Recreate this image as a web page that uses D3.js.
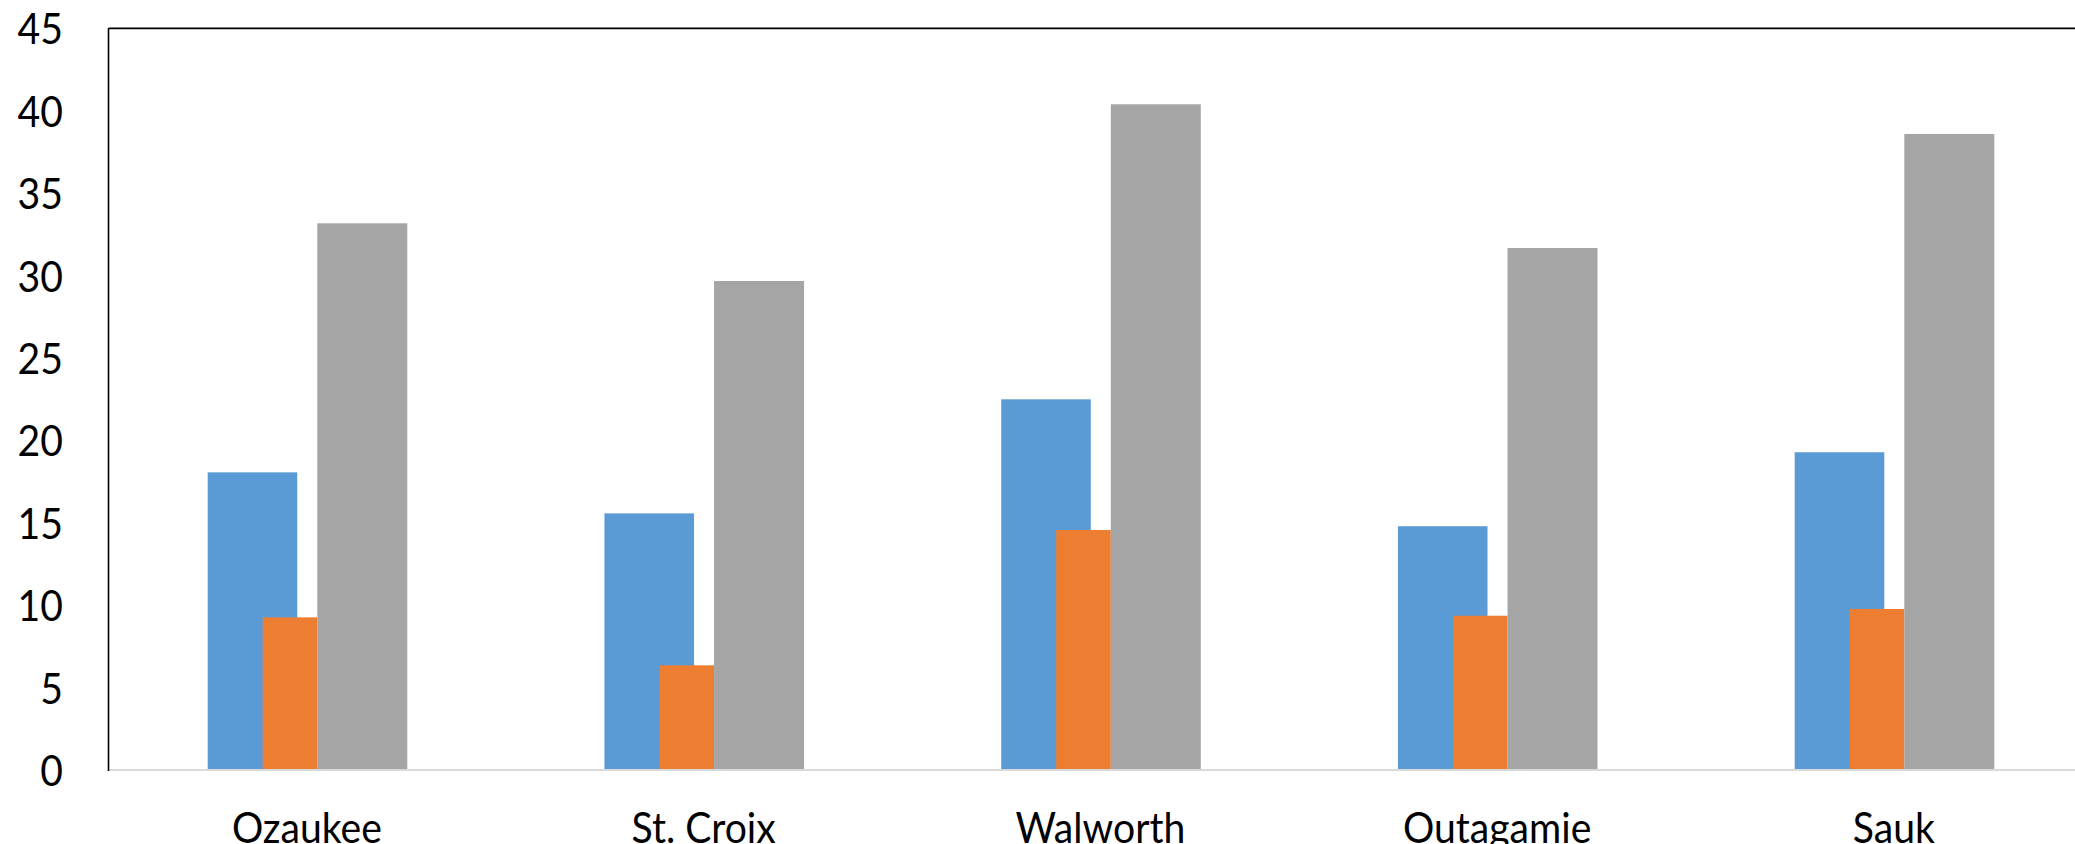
<!DOCTYPE html>
<html>
<head>
<meta charset="utf-8">
<script src="https://cdn.jsdelivr.net/npm/d3@7"></script>
<style>
  html, body { margin: 0; padding: 0; background: #ffffff; overflow: hidden; }
  svg { display: block; }
  text { font-family: Lato, "Open Sans", sans-serif; fill: #000000; }
</style>
</head>
<body>
<svg id="chart" width="2075" height="844"></svg>
<script>
// County names along the category axis
const categories = ["Ozaukee", "St. Croix", "Walworth", "Outagamie", "Sauk"];

// Three series per county
const seriesBlue   = [18.06, 15.57, 22.49, 14.79, 19.28];
const seriesOrange = [9.26, 6.35, 14.56, 9.36, 9.77];
const seriesGray   = [33.17, 29.67, 40.39, 31.67, 38.59];

// Value axis ticks
const yTicks = [0, 5, 10, 15, 20, 25, 30, 35, 40, 45];

const W = 2075, H = 844;
const plot = { left: 108.5, top: 28.3, bottom: 770, step: 396.75 };
const textSqueeze = 0.91;   // narrows Lato glyphs a little

const svg = d3.select("#chart");

const x = d3.scaleBand()
  .domain(categories)
  .range([plot.left, plot.left + categories.length * plot.step])
  .paddingInner(0)
  .paddingOuter(0);

const y = d3.scaleLinear()
  .domain([0, 45])
  .range([plot.bottom, plot.top]);

// Bar placement inside each category band (fractions of the band width)
const bw = x.bandwidth();
const layers = [
  { values: seriesBlue,   color: "#5B9BD5", start: 0.2500, width: 0.2258 },
  { values: seriesOrange, color: "#ED7D31", start: 0.3887, width: 0.1376 },
  { values: seriesGray,   color: "#A5A5A5", start: 0.5263, width: 0.2268 }
];

const bars = svg.append("g");
layers.forEach(layer => {
  bars.append("g")
    .selectAll("rect")
    .data(categories.map((c, i) => ({ c, v: layer.values[i] })))
    .join("rect")
    .attr("x", d => x(d.c) + layer.start * bw)
    .attr("width", layer.width * bw)
    .attr("y", d => y(d.v))
    .attr("height", d => y(0) - y(d.v))
    .attr("fill", layer.color);
});

// Category axis line
svg.append("line")
  .attr("x1", plot.left).attr("x2", W)
  .attr("y1", y(0)).attr("y2", y(0))
  .attr("stroke", "#D9D9D9").attr("stroke-width", 2);

// Plot-area frame: left and top edges
svg.append("line")
  .attr("x1", plot.left).attr("x2", plot.left)
  .attr("y1", y(45)).attr("y2", y(0) + 1)
  .attr("stroke", "#000").attr("stroke-width", 1.6);
svg.append("line")
  .attr("x1", plot.left).attr("x2", W)
  .attr("y1", y(45)).attr("y2", y(45))
  .attr("stroke", "#000").attr("stroke-width", 1.8);

// Value axis labels
const yAxis = d3.axisLeft(y).tickValues(yTicks).tickSize(0).tickPadding(0);
const gy = svg.append("g")
  .attr("transform", "translate(63,0)")
  .call(yAxis);
gy.select(".domain").remove();
gy.selectAll(".tick text")
  .attr("font-family", "Lato, 'Open Sans', sans-serif")
  .attr("font-size", 43)
  .attr("dy", "0.36em")
  .attr("fill", "#000")
  .attr("transform", `scale(${textSqueeze},1)`);

// Category labels
const xAxis = d3.axisBottom(x).tickSize(0).tickPadding(0);
const gx = svg.append("g")
  .call(xAxis);
gx.select(".domain").remove();
gx.selectAll(".tick text")
  .attr("y", 843)
  .attr("dy", 0)
  .attr("font-family", "Lato, 'Open Sans', sans-serif")
  .attr("font-size", 43)
  .attr("fill", "#000")
  .attr("transform", `scale(${textSqueeze},1)`);
</script>
</body>
</html>
